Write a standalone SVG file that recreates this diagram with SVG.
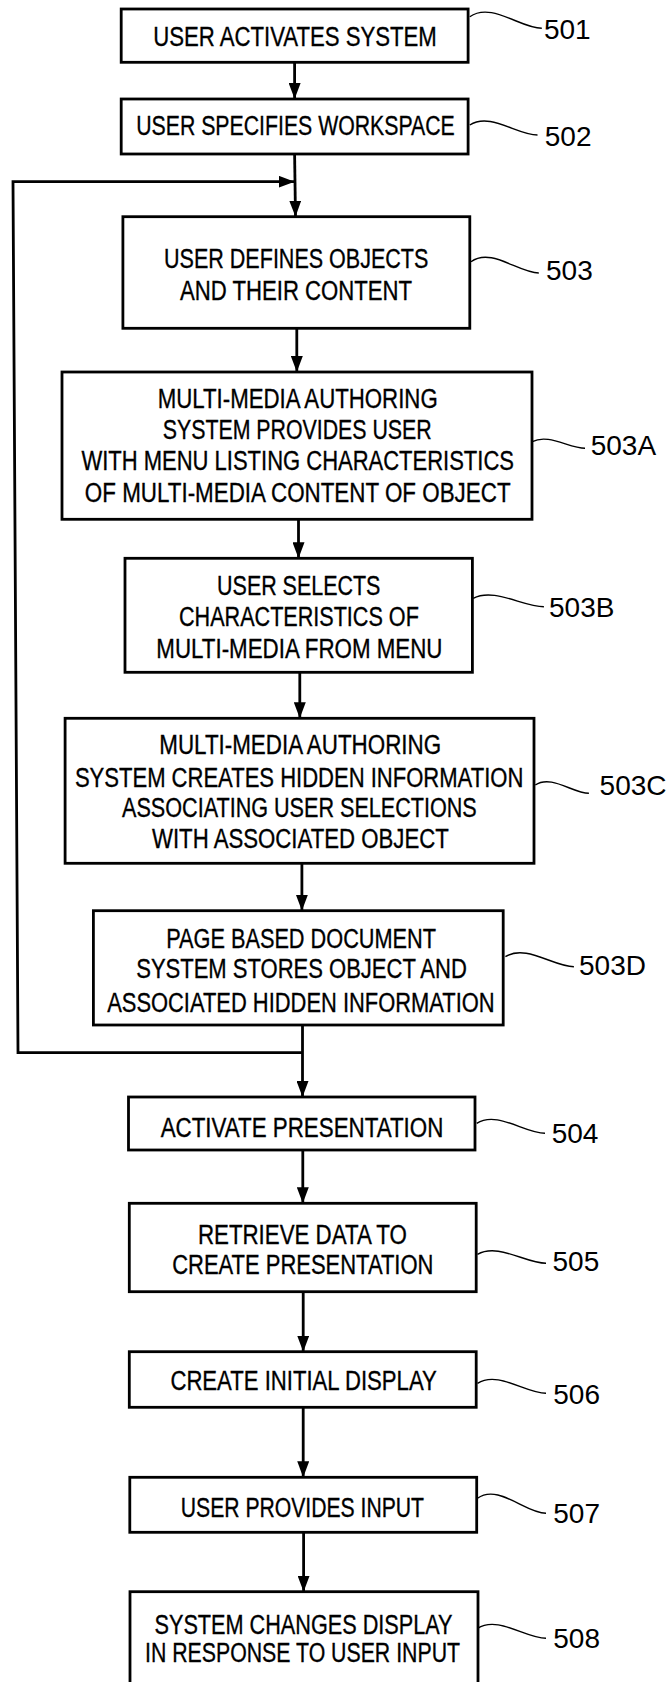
<svg xmlns="http://www.w3.org/2000/svg" width="671" height="1682" viewBox="0 0 671 1682">
<style>
.box{fill:#fff;stroke:#000;stroke-width:2.8}
.t{font-family:"Liberation Sans",Arial,sans-serif;font-size:28px;text-anchor:middle;fill:#000;stroke:#000;stroke-width:0.35}
.lbl{font-family:"Liberation Sans",Arial,sans-serif;font-size:28px;fill:#000}
.lead{fill:none;stroke:#000;stroke-width:1.4}
.conn{fill:none;stroke:#000;stroke-width:2.8}
</style>
<defs>
<marker id="ah" markerUnits="userSpaceOnUse" viewBox="0 0 16 12" refX="16" refY="6" markerWidth="16" markerHeight="12" orient="auto">
<path d="M0,0 L16,6 L0,12 Z" fill="#000"/>
</marker>
</defs>
<rect width="671" height="1682" fill="#fff"/>
<g id="connectors">
<path class="conn" d="M294.6 62.3 L294.6 99" marker-end="url(#ah)"/>
<path class="conn" d="M294.6 154 L295.5 216.7" marker-end="url(#ah)"/>
<path class="conn" d="M302.5 1052.7 L18 1052.7 L13 181.7 L294.6 181.7" marker-end="url(#ah)"/>
<path class="conn" d="M296.8 328.3 L296.8 372" marker-end="url(#ah)"/>
<path class="conn" d="M298.5 519.3 L298.5 558.3" marker-end="url(#ah)"/>
<path class="conn" d="M299.8 672.3 L299.8 718.3" marker-end="url(#ah)"/>
<path class="conn" d="M301.9 863.3 L301.9 910.7" marker-end="url(#ah)"/>
<path class="conn" d="M302.5 1025 L302.5 1097" marker-end="url(#ah)"/>
<path class="conn" d="M302.8 1150 L302.8 1203.3" marker-end="url(#ah)"/>
<path class="conn" d="M303.2 1291.7 L303.2 1351.7" marker-end="url(#ah)"/>
<path class="conn" d="M303.2 1407.3 L303.2 1477.3" marker-end="url(#ah)"/>
<path class="conn" d="M303.6 1532.3 L303.6 1591.7" marker-end="url(#ah)"/>
</g>
<g id="n501">
<rect class="box" x="121.2" y="9" width="346.9" height="53.3"/>
<text class="t" transform="matrix(0.72 0 0 1 295 0)" x="0" y="45.7" textLength="393.75" lengthAdjust="spacingAndGlyphs">USER ACTIVATES SYSTEM</text>
<path class="lead" d="M469.8 16.7 c21.6 -15.1 50.4 11.6 72 11.6"/>
<text class="lbl" x="543.9" y="39">501</text>
</g>
<g id="n502">
<rect class="box" x="121.2" y="99" width="346.9" height="55"/>
<text class="t" transform="matrix(0.72 0 0 1 295.5 0)" x="0" y="135" textLength="442.5" lengthAdjust="spacingAndGlyphs">USER SPECIFIES WORKSPACE</text>
<path class="lead" d="M469.8 125 c20.3 -13 47.4 10 67.7 10"/>
<text class="lbl" x="544.8" y="145.7">502</text>
</g>
<g id="n503">
<rect class="box" x="122.9" y="216.7" width="346.9" height="111.6"/>
<text class="t" transform="matrix(0.72 0 0 1 296.2 0)" x="0" y="268.3" textLength="367.1" lengthAdjust="spacingAndGlyphs">USER DEFINES OBJECTS</text>
<text class="t" transform="matrix(0.72 0 0 1 296 0)" x="0" y="300" textLength="322.2" lengthAdjust="spacingAndGlyphs">AND THEIR CONTENT</text>
<path class="lead" d="M471 261.7 c20.3 -14.7 47.5 11.3 67.8 11.3"/>
<text class="lbl" x="546" y="280">503</text>
</g>
<g id="n503A">
<rect class="box" x="62" y="372" width="470" height="147.3"/>
<text class="t" transform="matrix(0.72 0 0 1 297.7 0)" x="0" y="407.7" textLength="388.9" lengthAdjust="spacingAndGlyphs">MULTI-MEDIA AUTHORING</text>
<text class="t" transform="matrix(0.72 0 0 1 297.2 0)" x="0" y="439" textLength="373.6" lengthAdjust="spacingAndGlyphs">SYSTEM PROVIDES USER</text>
<text class="t" transform="matrix(0.72 0 0 1 297.7 0)" x="0" y="470" textLength="600.7" lengthAdjust="spacingAndGlyphs">WITH MENU LISTING CHARACTERISTICS</text>
<text class="t" transform="matrix(0.72 0 0 1 297.7 0)" x="0" y="501.7" textLength="591.25" lengthAdjust="spacingAndGlyphs">OF MULTI-MEDIA CONTENT OF OBJECT</text>
<path class="lead" d="M532.3 441.7 c15.8 -8.6 36.9 6.6 52.7 6.6"/>
<text class="lbl" x="590.7" y="455">503A</text>
</g>
<g id="n503B">
<rect class="box" x="125" y="558.3" width="347.4" height="114"/>
<text class="t" transform="matrix(0.72 0 0 1 298.7 0)" x="0" y="595" textLength="226.7" lengthAdjust="spacingAndGlyphs">USER SELECTS</text>
<text class="t" transform="matrix(0.72 0 0 1 298.9 0)" x="0" y="626" textLength="333.1" lengthAdjust="spacingAndGlyphs">CHARACTERISTICS OF</text>
<text class="t" transform="matrix(0.72 0 0 1 299.4 0)" x="0" y="657.7" textLength="397.4" lengthAdjust="spacingAndGlyphs">MULTI-MEDIA FROM MENU</text>
<path class="lead" d="M473.2 598.3 c21.2 -10.9 49.5 8.4 70.7 8.4"/>
<text class="lbl" x="549" y="617.3">503B</text>
</g>
<g id="n503C">
<rect class="box" x="65.1" y="718.3" width="468.9" height="145"/>
<text class="t" transform="matrix(0.72 0 0 1 300.2 0)" x="0" y="754.3" textLength="391.4" lengthAdjust="spacingAndGlyphs">MULTI-MEDIA AUTHORING</text>
<text class="t" transform="matrix(0.72 0 0 1 299.1 0)" x="0" y="786.7" textLength="622.8" lengthAdjust="spacingAndGlyphs">SYSTEM CREATES HIDDEN INFORMATION</text>
<text class="t" transform="matrix(0.72 0 0 1 299.4 0)" x="0" y="816.7" textLength="492.6" lengthAdjust="spacingAndGlyphs">ASSOCIATING USER SELECTIONS</text>
<text class="t" transform="matrix(0.72 0 0 1 300.4 0)" x="0" y="848.3" textLength="412.2" lengthAdjust="spacingAndGlyphs">WITH ASSOCIATED OBJECT</text>
<path class="lead" d="M535.3 785 c16.1 -10.8 37.5 8.3 53.6 8.3"/>
<text class="lbl" x="599.6" y="795">503C</text>
</g>
<g id="n503D">
<rect class="box" x="93.4" y="910.7" width="409.8" height="114.3"/>
<text class="t" transform="matrix(0.72 0 0 1 301.1 0)" x="0" y="948.3" textLength="374.7" lengthAdjust="spacingAndGlyphs">PAGE BASED DOCUMENT</text>
<text class="t" transform="matrix(0.72 0 0 1 301.5 0)" x="0" y="978.3" textLength="459.2" lengthAdjust="spacingAndGlyphs">SYSTEM STORES OBJECT AND</text>
<text class="t" transform="matrix(0.72 0 0 1 300.9 0)" x="0" y="1011.7" textLength="538.2" lengthAdjust="spacingAndGlyphs">ASSOCIATED HIDDEN INFORMATION</text>
<path class="lead" d="M505.4 956.7 c20.6 -13 48 10 68.5 10"/>
<text class="lbl" x="579" y="975">503D</text>
</g>
<g id="n504">
<rect class="box" x="128.5" y="1097" width="346.5" height="53"/>
<text class="t" transform="matrix(0.72 0 0 1 302 0)" x="0" y="1136.7" textLength="392.6" lengthAdjust="spacingAndGlyphs">ACTIVATE PRESENTATION</text>
<path class="lead" d="M476.7 1123.3 c20.5 -13 47.8 10 68.3 10"/>
<text class="lbl" x="551.7" y="1142.7">504</text>
</g>
<g id="n505">
<rect class="box" x="129.3" y="1203.3" width="346.9" height="88.4"/>
<text class="t" transform="matrix(0.72 0 0 1 302.4 0)" x="0" y="1244" textLength="290.3" lengthAdjust="spacingAndGlyphs">RETRIEVE DATA TO</text>
<text class="t" transform="matrix(0.72 0 0 1 302.8 0)" x="0" y="1274.3" textLength="362.8" lengthAdjust="spacingAndGlyphs">CREATE PRESENTATION</text>
<path class="lead" d="M477.5 1254.3 c20.6 -11.7 48 9 68.5 9"/>
<text class="lbl" x="552.5" y="1271">505</text>
</g>
<g id="n506">
<rect class="box" x="129.3" y="1351.7" width="346.9" height="55.6"/>
<text class="t" transform="matrix(0.72 0 0 1 303.6 0)" x="0" y="1390" textLength="370" lengthAdjust="spacingAndGlyphs">CREATE INITIAL DISPLAY</text>
<path class="lead" d="M477.5 1383.3 c20.6 -13 48 10 68.5 10"/>
<text class="lbl" x="553.3" y="1404">506</text>
</g>
<g id="n507">
<rect class="box" x="129.8" y="1477.3" width="346.9" height="55"/>
<text class="t" transform="matrix(0.72 0 0 1 302.4 0)" x="0" y="1516.7" textLength="337.9" lengthAdjust="spacingAndGlyphs">USER PROVIDES INPUT</text>
<path class="lead" d="M477.5 1498.3 c20.6 -15 48 15 68.5 15"/>
<text class="lbl" x="553.3" y="1522.7">507</text>
</g>
<g id="n508">
<rect class="box" x="130" y="1591.7" width="348" height="110"/>
<text class="t" transform="matrix(0.72 0 0 1 303.5 0)" x="0" y="1634" textLength="413.9" lengthAdjust="spacingAndGlyphs">SYSTEM CHANGES DISPLAY</text>
<text class="t" transform="matrix(0.72 0 0 1 302.5 0)" x="0" y="1661.7" textLength="437.5" lengthAdjust="spacingAndGlyphs">IN RESPONSE TO USER INPUT</text>
<path class="lead" d="M477.5 1628.3 c20.6 -13 48 10 68.5 10"/>
<text class="lbl" x="553.3" y="1648.3">508</text>
</g>
</svg>
